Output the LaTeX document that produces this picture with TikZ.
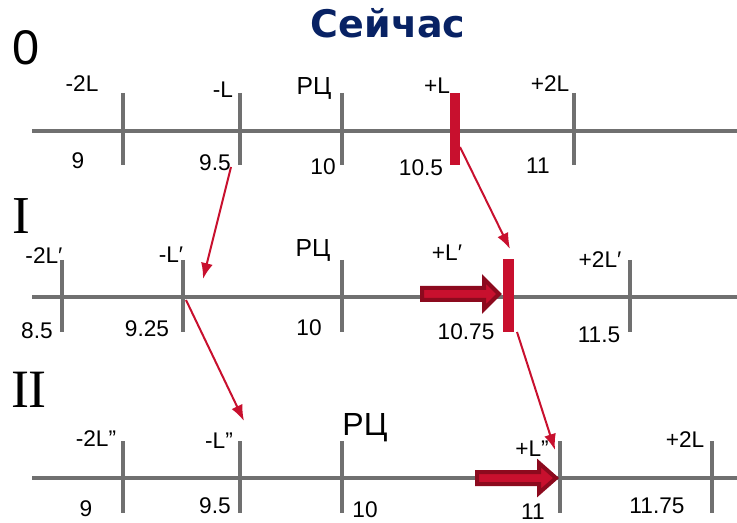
\documentclass[tikz,border=0pt]{standalone}
\usepackage{fontspec}
\setmainfont{Liberation Sans}
\newfontfamily\titlefont{DejaVu Sans}
\newfontfamily\romfont{Liberation Serif}
\usetikzlibrary{arrows.meta}
\definecolor{axisgray}{RGB}{112,112,112}
\definecolor{barred}{RGB}{200,16,46}
\definecolor{darkred}{RGB}{140,10,30}
\definecolor{navy}{RGB}{8,34,100}
% fat arrow: start x, head x, tip x, axis y
\newcommand{\fatarrow}[4]{%
  \draw[darkred,line width=3pt,fill=barred,line join=miter]
    (#1,#4-6) -- (#2,#4-6) -- (#2,#4-15) -- (#3,#4) -- (#2,#4+15)
    -- (#2,#4+6) -- (#1,#4+6) -- cycle;}

\begin{document}
\begin{tikzpicture}[x=0.75pt,y=-0.75pt,
    axis/.style={axisgray,line width=3pt},
    tick/.style={axisgray,line width=3pt},
    lbl/.style={inner sep=0pt,font=\fontsize{17}{17}\selectfont},
    num/.style={inner sep=0pt,font=\romfont\fontsize{38}{38}\selectfont},
    link/.style={barred,line width=1.5pt,-{Latex[length=12pt,width=9pt]}}]
  \useasboundingbox (0,0) rectangle (737,523);

  \node[inner sep=0pt,navy,font=\titlefont\bfseries\fontsize{28.5}{28.5}\selectfont] (title) at (388,23) {Сейчас};

  % row 0
  \node[num,font=\fontsize{36.5}{36.5}\selectfont] (r0) at (26,48) {0};
  \draw[axis] (32,131) -- (737,131);
  \foreach \x in {123,240,342,574}
    \draw[tick] (\x,93) -- (\x,165);
  \fill[barred] (450,93) rectangle (460,165);
  \node[lbl] (a2L) at (82,84) {-2L};
  \node[lbl] (aL) at (223,90) {-L};
  \node[lbl,font=\fontsize{18.5}{18.5}\selectfont] (aRC) at (314,88) {РЦ};
  \node[lbl] (apL) at (437,86) {+L};
  \node[lbl] (ap2L) at (550,84) {+2L};
  \node[lbl] (a9) at (78,161) {9};
  \node[lbl] (a95) at (215,163) {9.5};
  \node[lbl] (a10) at (323,167) {10};
  \node[lbl] (a105) at (421,168) {10.5};
  \node[lbl] (a11) at (538,166) {11};

  % row I
  \node[num,font=\romfont\fontsize{40}{40}\selectfont] (r1) at (21,216) {I};
  \draw[axis] (32,297) -- (737,297);
  \foreach \x in {62,183,342,630}
    \draw[tick] (\x,260) -- (\x,332);
  \fatarrow{422}{484}{499}{294}
  \fill[barred] (503,259) rectangle (514,332);
  \node[lbl] (b2L) at (44,256) {-2L′};
  \node[lbl] (bL) at (171,255) {-L′};
  \node[lbl,font=\fontsize{18.5}{18.5}\selectfont] (bRC) at (313,250) {РЦ};
  \node[lbl] (bpL) at (447,253) {+L′};
  \node[lbl] (bp2L) at (600,260) {+2L′};
  \node[lbl] (b85) at (37,331) {8.5};
  \node[lbl] (b925) at (147,329) {9.25};
  \node[lbl] (b10) at (309,328) {10};
  \node[lbl] (b1075) at (466,332) {10.75};
  \node[lbl] (b115) at (599,335) {11.5};

  % row II
  \node[num,font=\romfont\fontsize{40.5}{40.5}\selectfont] (r2) at (29,390) {II};
  \draw[axis] (32,478) -- (737,478);
  \foreach \x in {123,240,342,560,712}
    \draw[tick] (\x,441) -- (\x,513);
  \fatarrow{477}{539}{556}{478}
  \node[lbl] (c2L) at (96,439) {-2L”};
  \node[lbl] (cL) at (219,441) {-L”};
  \node[lbl,font=\fontsize{24}{24}\selectfont] (cRC) at (365,428) {РЦ};
  \node[lbl] (cpL) at (532,449) {+L”};
  \node[lbl] (cp2L) at (685,440) {+2L};
  \node[lbl] (c9) at (86,509) {9};
  \node[lbl] (c95) at (215,506) {9.5};
  \node[lbl] (c10) at (365,510) {10};
  \node[lbl] (c11) at (533,512) {11};
  \node[lbl] (c1175) at (657,506) {11.75};

  % shifts
  \coordinate (s1) at (231,167);
  \coordinate (e1) at (203,279);
  \coordinate (s2) at (460,147);
  \coordinate (e2) at (510,249);
  \coordinate (s3) at (186,300);
  \coordinate (e3) at (244,421);
  \coordinate (s4) at (517,332);
  \coordinate (e4) at (555,450);
  \draw[link] (s1) -- (e1);
  \draw[link] (s2) -- (e2);
  \draw[link] (s3) -- (e3);
  \draw[link] (s4) -- (e4);
\end{tikzpicture}
\end{document}
